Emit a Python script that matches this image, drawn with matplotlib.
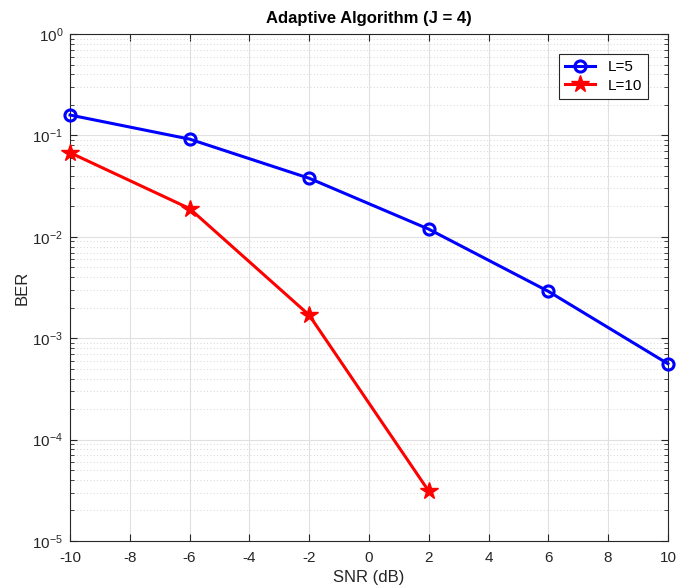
import numpy as np
import matplotlib
matplotlib.use('Agg')
import matplotlib.pyplot as plt

plt.rcParams['font.family'] = ['Liberation Sans', 'DejaVu Sans']
plt.rcParams['axes.unicode_minus'] = False

snr_5 = [-10, -6, -2, 2, 6, 10]
ber_5 = [0.159, 0.092, 0.0378, 0.0119, 0.0029, 5.6e-4]

snr_10 = [-10, -6, -2, 2]
ber_10 = [0.0676, 0.019, 0.00169, 3.1e-5]

fig = plt.figure(figsize=(6.76, 5.87), dpi=100)
ax = fig.add_axes([0.1036, 0.0784, 0.8844, 0.8636])

ax.semilogy(snr_5, ber_5, '-o', color='#0000ff', lw=2.2, ms=8,
            mfc='none', mew=2.2, label='L=5', clip_on=False, zorder=3)
ax.semilogy(snr_10, ber_10, '-*', color='#ff0000', lw=2.2, ms=13,
            mew=1, label='L=10', clip_on=False, zorder=3)

ax.set_xlim(-10, 10)
ax.set_ylim(1e-5, 1)
ax.set_xticks(np.arange(-10, 11, 2))

ax.grid(True, which='major', color='#e0e0e0', lw=0.8)
ax.grid(True, which='minor', color='#c8c8c8', lw=0.6, ls=(0, (1, 3)))
ax.set_axisbelow(True)

ax.tick_params(which='both', direction='in', top=True, right=True,
               labelsize=11, colors='#262626')
ax.tick_params(which='major', length=5)
ax.tick_params(which='minor', length=3)
ax.tick_params(axis='x', pad=7)
ax.tick_params(axis='y', pad=5)
for s in ax.spines.values():
    s.set_color('#262626')
    s.set_linewidth(0.8)

ax.set_xlabel('SNR (dB)', fontsize=12, color='#262626', labelpad=4)
ax.set_ylabel('BER', fontsize=12, color='#262626', labelpad=2)
ax.set_title('Adaptive Algorithm (J = 4)', fontsize=12, fontweight='bold', pad=8)

leg = ax.legend(loc='upper right', fontsize=11, fancybox=False,
                edgecolor='#262626', framealpha=1, borderaxespad=1.3,
                handlelength=2.0, borderpad=0.4, labelspacing=0.3)
leg.get_frame().set_linewidth(0.8)

fig.savefig('out.png', dpi=100)
